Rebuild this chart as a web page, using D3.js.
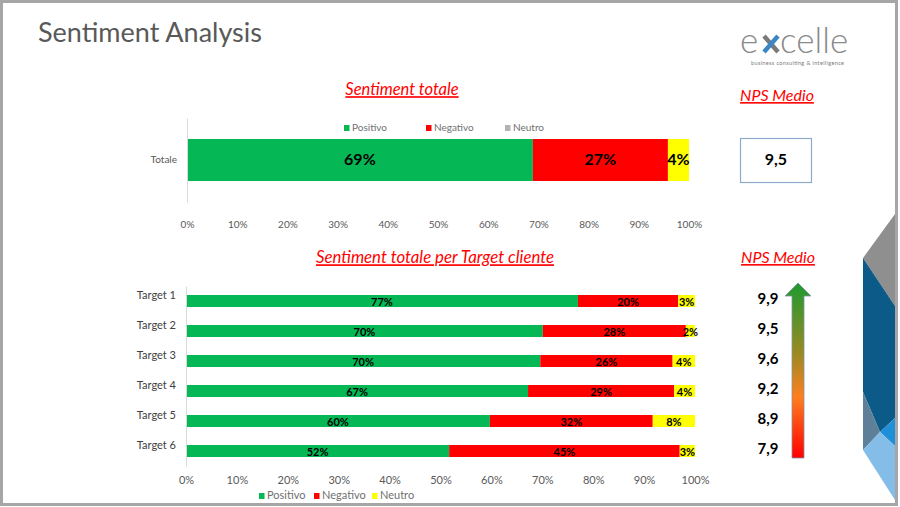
<!DOCTYPE html>
<html>
<head>
<meta charset="utf-8">
<script src="https://cdn.jsdelivr.net/npm/d3@7"></script>
<style>
  body { margin: 0; background: #fff; }
  svg { display: block; font-family: Lato, "Open Sans", sans-serif; }
</style>
</head>
<body>
<svg id="chart"></svg>
<script>
// data
var categories = ["Positivo", "Negativo", "Neutro"];
var totalRows = ["Totale"];
var totalValues = [0.689, 0.269, 0.042];
var npsTotal = "9,5";

var targets = ["Target 1", "Target 2", "Target 3", "Target 4", "Target 5", "Target 6"];
var positivo = [0.770, 0.701, 0.696, 0.672, 0.597, 0.517];
var negativo = [0.197, 0.281, 0.260, 0.287, 0.320, 0.453];
var neutro   = [0.033, 0.018, 0.044, 0.041, 0.083, 0.030];
var npsTargets = ["9,9", "9,5", "9,6", "9,2", "8,9", "7,9"];

var tickValues = [0, 0.1, 0.2, 0.3, 0.4, 0.5, 0.6, 0.7, 0.8, 0.9, 1];

var colors = { "Positivo": "#05b855", "Negativo": "#ff0000", "Neutro": "#ffff00" };
var pct = d3.format(".0%");

var svg = d3.select("#chart").attr("width", 900).attr("height", 507);

// slide frame
svg.append("rect")
  .attr("x", 1.5).attr("y", 1.5).attr("width", 895).attr("height", 503)
  .attr("fill", "#fff").attr("stroke", "#a6a6a6").attr("stroke-width", 3);

// title
svg.append("text")
  .attr("x", 38).attr("y", 42)
  .attr("font-size", 27).attr("fill", "#595959")
  .text("Sentiment Analysis");

// logo
var logo = svg.append("g").attr("fill", "#8a8a8a").attr("font-weight", 300);
logo.append("text").attr("x", 740).attr("y", 53).attr("font-size", 35).text("e");
logo.append("text").attr("x", 780).attr("y", 53).attr("font-size", 35).text("celle");
logo.append("line").attr("x1", 764).attr("y1", 36).attr("x2", 778).attr("y2", 52)
  .attr("stroke", "#7a7a7a").attr("stroke-width", 4.5);
logo.append("line").attr("x1", 764).attr("y1", 52).attr("x2", 778).attr("y2", 36)
  .attr("stroke", "#3d86c6").attr("stroke-width", 4.5);
logo.append("text").attr("x", 751).attr("y", 65).attr("font-size", 5.5)
  .attr("textLength", 93).attr("font-weight", 400).attr("fill", "#7a7a7a")
  .text("business consulting & intelligence");

// right side decoration
var deco = [
  { pts: [[895, 214], [863, 258], [895, 306]], fill: "#8f8f8f" },
  { pts: [[863, 258], [895, 306], [895, 418], [880, 432], [863, 392]], fill: "#0b5a87" },
  { pts: [[863, 392], [880, 432], [863, 450]], fill: "#5e7f98" },
  { pts: [[880, 432], [895, 418], [895, 446]], fill: "#1f8fd8" },
  { pts: [[863, 450], [880, 432], [895, 446], [895, 500]], fill: "#84bde8" }
];
svg.selectAll(".deco").data(deco).enter().append("polygon")
  .attr("class", "deco")
  .attr("points", function (d) { return d.pts.map(function (p) { return p.join(","); }).join(" "); })
  .attr("fill", function (d) { return d.fill; });

function heading(x, y, txt, fs) {
  svg.append("text")
    .attr("x", x).attr("y", y)
    .attr("text-anchor", "middle")
    .attr("dominant-baseline", "middle")
    .attr("font-size", fs).attr("font-style", "italic")
    .attr("fill", "#ff0000")
    .attr("text-decoration", "underline")
    .text(txt);
}

heading(402, 91, "Sentiment totale", 16.5);
heading(777, 97, "NPS Medio", 16);
heading(435, 259, "Sentiment totale per Target cliente", 16.8);
heading(778, 259, "NPS Medio", 16);

function legend(items, y, xs, fs, neutroColor) {
  var g = svg.append("g");
  items.forEach(function (c, i) {
    g.append("rect")
      .attr("x", xs[i]).attr("y", y - 3).attr("width", 5.5).attr("height", 6)
      .attr("fill", c === "Neutro" ? neutroColor : colors[c]);
    g.append("text")
      .attr("x", xs[i] + 8).attr("y", y)
      .attr("dominant-baseline", "middle")
      .attr("font-size", fs).attr("fill", "#707070")
      .text(c);
  });
}

// ---------- top chart: Totale ----------
var x1 = d3.scaleLinear().domain([0, 1]).range([187, 689]);
var y1 = d3.scaleBand().domain(totalRows).range([118, 202]).padding(1 / 3);

var totalTable = totalRows.map(function (r) {
  var o = { row: r };
  categories.forEach(function (c, i) { o[c] = totalValues[i]; });
  return o;
});
var stack = d3.stack().keys(categories);
var totalSeries = stack(totalTable);

var topG = svg.append("g");
topG.selectAll("g.s").data(totalSeries).enter().append("g")
  .attr("class", "s")
  .attr("fill", function (d) { return colors[d.key]; })
  .selectAll("rect").data(function (d) { return d; }).enter().append("rect")
  .attr("x", function (d) { return x1(d[0]); })
  .attr("width", function (d) { return x1(d[1]) - x1(d[0]); })
  .attr("y", function (d) { return y1(d.data.row); })
  .attr("height", y1.bandwidth());

totalSeries.forEach(function (s) {
  s.forEach(function (d) {
    topG.append("text")
      .attr("x", (x1(d[0]) + x1(d[1])) / 2)
      .attr("y", y1(d.data.row) + y1.bandwidth() / 2 + 1)
      .attr("text-anchor", "middle").attr("dominant-baseline", "middle")
      .attr("font-size", 16).attr("font-weight", "bold").attr("fill", "#000")
      .text(pct(d[1] - d[0]));
  });
});

var yAx1 = topG.append("g").attr("transform", "translate(187,0)")
  .call(d3.axisLeft(y1).tickSize(0).tickPadding(10));
yAx1.select(".domain").attr("stroke", "#d9d9d9");
yAx1.selectAll("text").attr("font-family", "Lato, sans-serif").attr("font-size", 10).attr("fill", "#595959");

var xAx1 = topG.append("g").attr("transform", "translate(0,205)")
  .call(d3.axisBottom(x1).tickValues(tickValues).tickFormat(pct).tickSize(0).tickPadding(16));
xAx1.select(".domain").remove();
xAx1.selectAll("text").attr("font-family", "Lato, sans-serif").attr("font-size", 10).attr("fill", "#595959");

legend(categories, 128, [344, 426, 505], 10, "#b3b3b3");

// NPS total box
svg.append("rect")
  .attr("x", 740.5).attr("y", 138.5).attr("width", 71).attr("height", 44)
  .attr("fill", "#fff").attr("stroke", "#8eaacb").attr("stroke-width", 1.2);
svg.append("text")
  .attr("x", 776).attr("y", 161)
  .attr("text-anchor", "middle").attr("dominant-baseline", "middle")
  .attr("font-size", 16).attr("font-weight", "bold").attr("fill", "#000")
  .text(npsTotal);

// ---------- bottom chart: per target ----------
var x2 = d3.scaleLinear().domain([0, 1]).range([186, 695]);
var y2 = d3.scaleBand().domain(targets).range([286, 466]).paddingInner(0.6).paddingOuter(0.3);

var targetTable = targets.map(function (t, i) {
  return { row: t, Positivo: positivo[i], Negativo: negativo[i], Neutro: neutro[i] };
});
var targetSeries = stack(targetTable);

var bot = svg.append("g");
bot.selectAll("g.s").data(targetSeries).enter().append("g")
  .attr("class", "s")
  .attr("fill", function (d) { return colors[d.key]; })
  .selectAll("rect").data(function (d) { return d; }).enter().append("rect")
  .attr("x", function (d) { return x2(d[0]); })
  .attr("width", function (d) { return x2(d[1]) - x2(d[0]); })
  .attr("y", function (d) { return y2(d.data.row); })
  .attr("height", y2.bandwidth());

targetSeries.forEach(function (s) {
  s.forEach(function (d) {
    bot.append("text")
      .attr("x", (x2(d[0]) + x2(d[1])) / 2)
      .attr("y", y2(d.data.row) + y2.bandwidth() / 2 + 2)
      .attr("text-anchor", "middle").attr("dominant-baseline", "middle")
      .attr("font-size", 11).attr("font-weight", "bold").attr("fill", "#000")
      .text(pct(d[1] - d[0]));
  });
});

var yAx2 = bot.append("g").attr("transform", "translate(186,0)")
  .call(d3.axisLeft(y2).tickSize(0).tickPadding(10));
yAx2.select(".domain").attr("stroke", "#d9d9d9");
yAx2.selectAll("text").attr("font-family", "Lato, sans-serif").attr("font-size", 11)
  .attr("fill", "#404040").attr("dy", "-0.2em");

var xAx2 = bot.append("g").attr("transform", "translate(0,466)")
  .call(d3.axisBottom(x2).tickValues(tickValues).tickFormat(pct).tickSize(0).tickPadding(10));
xAx2.select(".domain").remove();
xAx2.selectAll("text").attr("font-family", "Lato, sans-serif").attr("font-size", 11).attr("fill", "#595959");

legend(categories, 496, [259, 314, 372], 11, colors["Neutro"]);

// NPS per target + arrow
bot.selectAll(".nps").data(targets).enter().append("text")
  .attr("class", "nps")
  .attr("x", 768)
  .attr("y", function (t) { return y2(t) + y2.bandwidth() / 2 - 1; })
  .attr("text-anchor", "middle").attr("dominant-baseline", "middle")
  .attr("font-size", 15).attr("font-weight", "bold").attr("fill", "#000")
  .text(function (t, i) { return npsTargets[i]; });

var grad = svg.append("defs").append("linearGradient")
  .attr("id", "npsGrad").attr("x1", 0).attr("y1", 0).attr("x2", 0).attr("y2", 1);
[[0, "#1d9a2e"], [0.4, "#9a8a22"], [0.65, "#ff7f1e"], [1, "#ff0000"]].forEach(function (s) {
  grad.append("stop").attr("offset", s[0]).attr("stop-color", s[1]);
});

var aTop = 283, aBot = 458, ax = 798;
svg.append("path")
  .attr("d", "M" + ax + "," + aTop +
    " L" + (ax + 13) + "," + (aTop + 13) +
    " L" + (ax + 6) + "," + (aTop + 13) +
    " L" + (ax + 6) + "," + aBot +
    " L" + (ax - 6) + "," + aBot +
    " L" + (ax - 6) + "," + (aTop + 13) +
    " L" + (ax - 13) + "," + (aTop + 13) + " Z")
  .attr("fill", "url(#npsGrad)")
  .attr("stroke", "#7e93ad").attr("stroke-width", 0.8);
</script>
</body>
</html>
